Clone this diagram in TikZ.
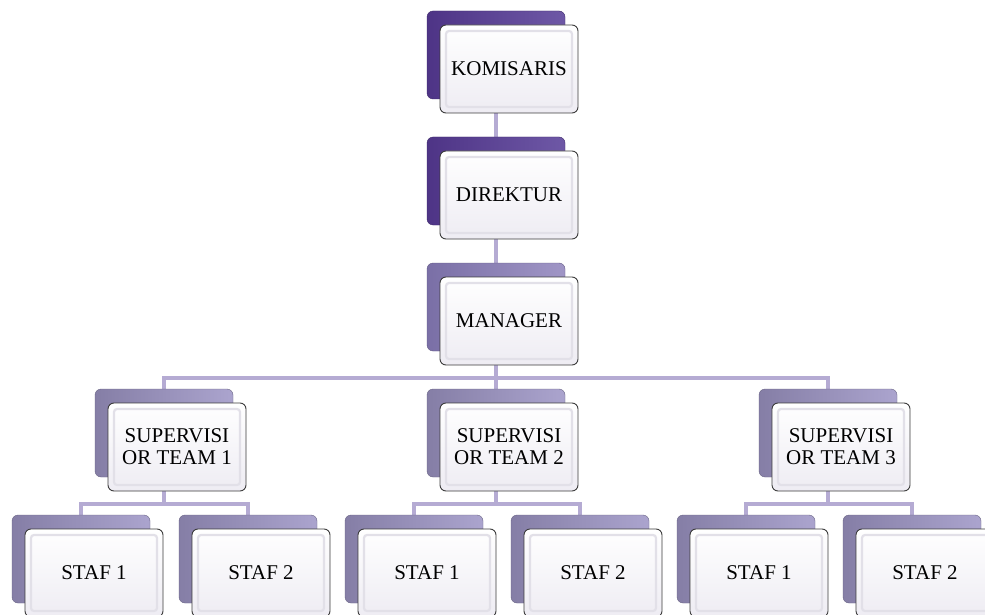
\documentclass[tikz,border=0pt]{standalone}
\usepackage{fontspec}
\setmainfont{Liberation Serif}
\definecolor{framegray}{HTML}{3C3C3C}
\definecolor{frontlow}{HTML}{EEECF3}
\definecolor{bevelc}{HTML}{E2E0E8}
\definecolor{linkc}{HTML}{B5ABD3}
\definecolor{darkA}{HTML}{4E3486}
\definecolor{darkB}{HTML}{6E58A6}
\definecolor{midA}{HTML}{7A6FA6}
\definecolor{midB}{HTML}{A096C6}
\definecolor{lightA}{HTML}{857EA6}
\definecolor{lightB}{HTML}{ABA4CE}
\pgfdeclarelayer{bg}
\pgfsetlayers{bg,main}
\tikzset{
  backbox/.style={rounded corners=6pt, inner sep=0pt, outer sep=0pt, minimum height=88pt, draw=#1!80!black, line width=0.4pt},
  darkback/.style={backbox=darkA, left color=darkA, right color=darkB},
  midback/.style={backbox=midA, left color=midA, right color=midB},
  lightback/.style={backbox=lightA, left color=lightA, right color=lightB},
  frontbox/.style={draw=framegray, line width=0.9pt, rounded corners=6pt, top color=white, bottom color=frontlow, inner sep=0pt, outer sep=0pt, minimum height=88pt, align=center, font=\fontsize{21}{22}\selectfont},
  bevel/.style={draw=bevelc, line width=2.2pt, rounded corners=3pt},
  link/.style={draw=linkc, line width=4pt}
}
\newcommand\orgunit[5]{%
  \node[#4, minimum width=138pt, anchor=north west] (#1-b) at (#2-13,#3-14) {};
  \node[frontbox, minimum width=138pt, anchor=north west] (#1) at (#2,#3) {};
  \draw[bevel] ([shift={(6,6)}]#1.north west) rectangle ([shift={(-6,-6)}]#1.south east);
  \node[align=center, font=\fontsize{21}{22}\selectfont, inner sep=0pt] (#1-t) at (#1.center) {#5};
}
\begin{document}
\begin{tikzpicture}[x=1pt,y=-1pt]
\useasboundingbox (0,0) rectangle (985,615);
\orgunit{kom}{440}{25}{darkback}{KOMISARIS}
\orgunit{dir}{440}{151}{darkback}{DIREKTUR}
\orgunit{man}{440}{277}{midback}{MANAGER}
\orgunit{s1}{108}{403}{lightback}{SUPERVISI\\OR TEAM 1}
\orgunit{s2}{440}{403}{lightback}{SUPERVISI\\OR TEAM 2}
\orgunit{s3}{772}{403}{lightback}{SUPERVISI\\OR TEAM 3}
\orgunit{a1}{25}{529}{lightback}{STAF 1}
\orgunit{a2}{192}{529}{lightback}{STAF 2}
\orgunit{b1}{358}{529}{lightback}{STAF 1}
\orgunit{b2}{524}{529}{lightback}{STAF 2}
\orgunit{c1}{690}{529}{lightback}{STAF 1}
\orgunit{c2}{856}{529}{lightback}{STAF 2}
\coordinate (bus1) at (0,378);
\coordinate (bus2) at (0,504);
\begin{pgfonlayer}{bg}
\fill[white] (0,0) rectangle (985,615);
\draw[link] (kom-b.south) -- (dir-b.north);
\draw[link] (dir-b.south) -- (man-b.north);
\draw[link] (man-b.south) -- (man-b.south |- bus1);
\draw[link] (s1-b.north) -- (s1-b.north |- bus1) -- (s3-b.north |- bus1) -- (s3-b.north);
\draw[link] (s2-b.north) -- (s2-b.north |- bus1);
\draw[link] (s1-b.south) -- (s1-b.south |- bus2);
\draw[link] (a1-b.north) -- (a1-b.north |- bus2) -- (a2-b.north |- bus2) -- (a2-b.north);
\draw[link] (s2-b.south) -- (s2-b.south |- bus2);
\draw[link] (b1-b.north) -- (b1-b.north |- bus2) -- (b2-b.north |- bus2) -- (b2-b.north);
\draw[link] (s3-b.south) -- (s3-b.south |- bus2);
\draw[link] (c1-b.north) -- (c1-b.north |- bus2) -- (c2-b.north |- bus2) -- (c2-b.north);
\end{pgfonlayer}
\end{tikzpicture}
\end{document}
